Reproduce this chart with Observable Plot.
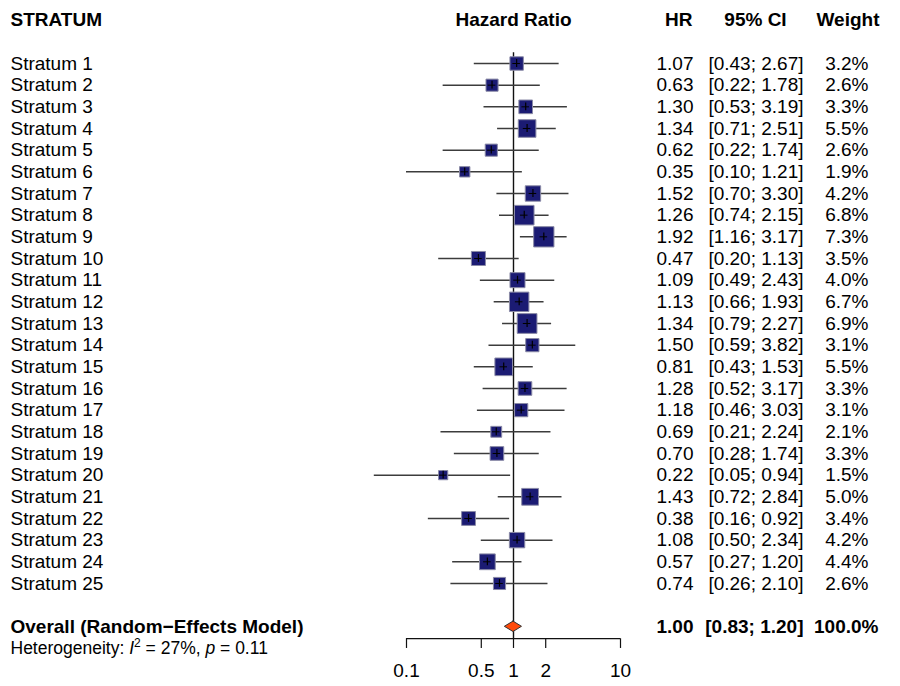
<!DOCTYPE html>
<html>
<head>
<meta charset="utf-8">
<script src="https://cdn.jsdelivr.net/npm/d3@7"></script>
<script src="https://cdn.jsdelivr.net/npm/@observablehq/plot@0.6"></script>
<style>
  html, body { margin: 0; padding: 0; background: #fff; }
  #chart svg { display: block; }
</style>
</head>
<body>
<div id="chart"></div>
<script>
const strata = ["Stratum 1","Stratum 2","Stratum 3","Stratum 4","Stratum 5","Stratum 6","Stratum 7","Stratum 8","Stratum 9","Stratum 10","Stratum 11","Stratum 12","Stratum 13","Stratum 14","Stratum 15","Stratum 16","Stratum 17","Stratum 18","Stratum 19","Stratum 20","Stratum 21","Stratum 22","Stratum 23","Stratum 24","Stratum 25"];
const hr    = [1.07,0.63,1.30,1.34,0.62,0.35,1.52,1.26,1.92,0.47,1.09,1.13,1.34,1.50,0.81,1.28,1.18,0.69,0.70,0.22,1.43,0.38,1.08,0.57,0.74];
const lower = [0.43,0.22,0.53,0.71,0.22,0.10,0.70,0.74,1.16,0.20,0.49,0.66,0.79,0.59,0.43,0.52,0.46,0.21,0.28,0.05,0.72,0.16,0.50,0.27,0.26];
const upper = [2.67,1.78,3.19,2.51,1.74,1.21,3.30,2.15,3.17,1.13,2.43,1.93,2.27,3.82,1.53,3.17,3.03,2.24,1.74,0.94,2.84,0.92,2.34,1.20,2.10];
const weight = [3.2,2.6,3.3,5.5,2.6,1.9,4.2,6.8,7.3,3.5,4.0,6.7,6.9,3.1,5.5,3.3,3.1,2.1,3.3,1.5,5.0,3.4,4.2,4.4,2.6];

const overall = {label: "Overall (Random\u2212Effects Model)", hr: 1.00, lower: 0.83, upper: 1.20, weight: 100.0};
const heterogeneity = {I2: 27, p: 0.11};
const headers = {study: "STRATUM", plot: "Hazard Ratio", hr: "HR", ci: "95% CI", weight: "Weight"};
const axisTicks = [0.1, 0.5, 1, 2, 10];
const axisLabels = ["0.1", "0.5", "1", "2", "10"];

// layout constants (row units on the y scale)
const HEADER_ROW = -2, OVERALL_ROW = 26, HET_ROW = 27, AXIS_ROW = 26.55, TICK_END_ROW = 27.0, TICK_LABEL_ROW = 28.05, TOP_ROW = -0.5;

const rows = strata.map((s, i) => ({
  row: i, label: s, hr: hr[i], lower: lower[i], upper: upper[i], weight: weight[i],
  hrText: hr[i].toFixed(2),
  ciText: `[${lower[i].toFixed(2)}; ${upper[i].toFixed(2)}]`,
  wText: `${weight[i].toFixed(1)}%`
}));

const ticks = axisTicks.map((v, i) => ({v, label: axisLabels[i]}));

const diamond = [
  {y: OVERALL_ROW - 0.24, x1: overall.hr, x2: overall.hr},
  {y: OVERALL_ROW, x1: overall.lower, x2: overall.upper},
  {y: OVERALL_ROW + 0.24, x1: overall.hr, x2: overall.hr}
];

const F = 19;
const txt = {fontSize: F, frameAnchor: "left", fill: "#000"};

const plot = Plot.plot({
  width: 900,
  height: 686,
  marginLeft: 0, marginRight: 0, marginTop: 0, marginBottom: 0,
  style: {fontFamily: "'Liberation Sans', Arial, Helvetica, sans-serif", fontSize: "19px", background: "#fff", color: "#000"},
  x: {type: "log", domain: [0.1, 10], range: [406, 620], axis: null},
  y: {type: "linear", domain: [0, 26], range: [63, 626.3], axis: null},
  r: {type: "sqrt", domain: [0, 7.3], range: [0, 11.45]},
  marks: [
    // reference line at HR = 1
    Plot.ruleX([1], {y1: TOP_ROW, y2: AXIS_ROW, stroke: "#111", strokeWidth: 1.4}),
    // confidence intervals
    Plot.ruleY(rows, {y: "row", x1: "lower", x2: "upper", stroke: "#3c3c3c", strokeWidth: 1.5}),
    // weighted squares
    Plot.dot(rows, {x: "hr", y: "row", r: "weight", symbol: "square", fill: "#1b1b73", stroke: "#8a8aa6", strokeWidth: 1}),
    // little cross at the estimate
    Plot.ruleX(rows, {x: "hr", y1: d => d.row - 0.18, y2: d => d.row + 0.18, stroke: "#000", strokeWidth: 1.2}),
    Plot.ruleY(rows, {y: "row", x1: d => d.hr / 1.085, x2: d => d.hr * 1.085, stroke: "#000", strokeWidth: 1}),
    // overall diamond
    Plot.areaX(diamond, {y: "y", x1: "x1", x2: "x2", fill: "#ff4a0a", stroke: "#333", strokeWidth: 1, curve: "linear"}),
    // x axis: line, ticks, labels
    Plot.ruleY([AXIS_ROW], {x1: axisTicks[0], x2: axisTicks[axisTicks.length - 1], stroke: "#111", strokeWidth: 1.2}),
    Plot.ruleX(ticks, {x: "v", y1: () => AXIS_ROW, y2: () => TICK_END_ROW, stroke: "#111", strokeWidth: 1.2}),
    Plot.text(ticks, {x: "v", y: () => TICK_LABEL_ROW, text: "label", fontSize: 19, textAnchor: "middle", fill: "#000"}),
    // headers
    Plot.text([headers], {...txt, y: () => HEADER_ROW, text: "study", dx: 10, textAnchor: "start", fontWeight: "bold"}),
    Plot.text([headers], {...txt, frameAnchor: undefined, x: () => 1, y: () => HEADER_ROW, text: "plot", textAnchor: "middle", fontWeight: "bold"}),
    Plot.text([headers], {...txt, y: () => HEADER_ROW, text: "hr", dx: 692, textAnchor: "end", fontWeight: "bold"}),
    Plot.text([headers], {...txt, y: () => HEADER_ROW, text: "ci", dx: 755, textAnchor: "middle", fontWeight: "bold"}),
    Plot.text([headers], {...txt, y: () => HEADER_ROW, text: "weight", dx: 879, textAnchor: "end", fontWeight: "bold"}),
    // study rows
    Plot.text(rows, {...txt, y: "row", text: "label", dx: 10, textAnchor: "start"}),
    Plot.text(rows, {...txt, y: "row", text: "hrText", dx: 693, textAnchor: "end"}),
    Plot.text(rows, {...txt, y: "row", text: "ciText", dx: 803, textAnchor: "end"}),
    Plot.text(rows, {...txt, y: "row", text: "wText", dx: 868, textAnchor: "end"}),
    // overall row
    Plot.text([overall], {...txt, y: () => OVERALL_ROW, text: "label", dx: 10, textAnchor: "start", fontWeight: "bold"}),
    Plot.text([overall], {...txt, y: () => OVERALL_ROW, text: d => d.hr.toFixed(2), dx: 693, textAnchor: "end", fontWeight: "bold"}),
    Plot.text([overall], {...txt, y: () => OVERALL_ROW, text: d => `[${d.lower.toFixed(2)}; ${d.upper.toFixed(2)}]`, dx: 803, textAnchor: "end", fontWeight: "bold"}),
    Plot.text([overall], {...txt, y: () => OVERALL_ROW, text: d => `${d.weight.toFixed(1)}%`, dx: 878, textAnchor: "end", fontWeight: "bold"}),
    // heterogeneity
    Plot.text([heterogeneity], {...txt, fontSize: 17.5, y: () => HET_ROW, text: d => `Heterogeneity: I2 = ${d.I2}%, p = ${d.p}`, dx: 10, textAnchor: "start"})
  ]
});

document.getElementById("chart").appendChild(plot);

// rich formatting for the heterogeneity line (italic I, superscript 2, italic p)
const het = Array.from(plot.querySelectorAll("text")).find(t => t.textContent.startsWith("Heterogeneity"));
if (het) {
  while (het.firstChild) het.removeChild(het.firstChild);
  const ns = "http://www.w3.org/2000/svg";
  const parts = [
    ["Heterogeneity: ", {}],
    ["I", {"font-style": "italic"}],
    ["2", {"font-size": "12px", "dy": "-7"}],
    [` = ${heterogeneity.I2}%, `, {"dy": "7"}],
    ["p", {"font-style": "italic"}],
    [` = ${heterogeneity.p}`, {}]
  ];
  for (const [t, attrs] of parts) {
    const ts = document.createElementNS(ns, "tspan");
    for (const k in attrs) ts.setAttribute(k, attrs[k]);
    ts.textContent = t;
    het.appendChild(ts);
  }
}
</script>
</body>
</html>
